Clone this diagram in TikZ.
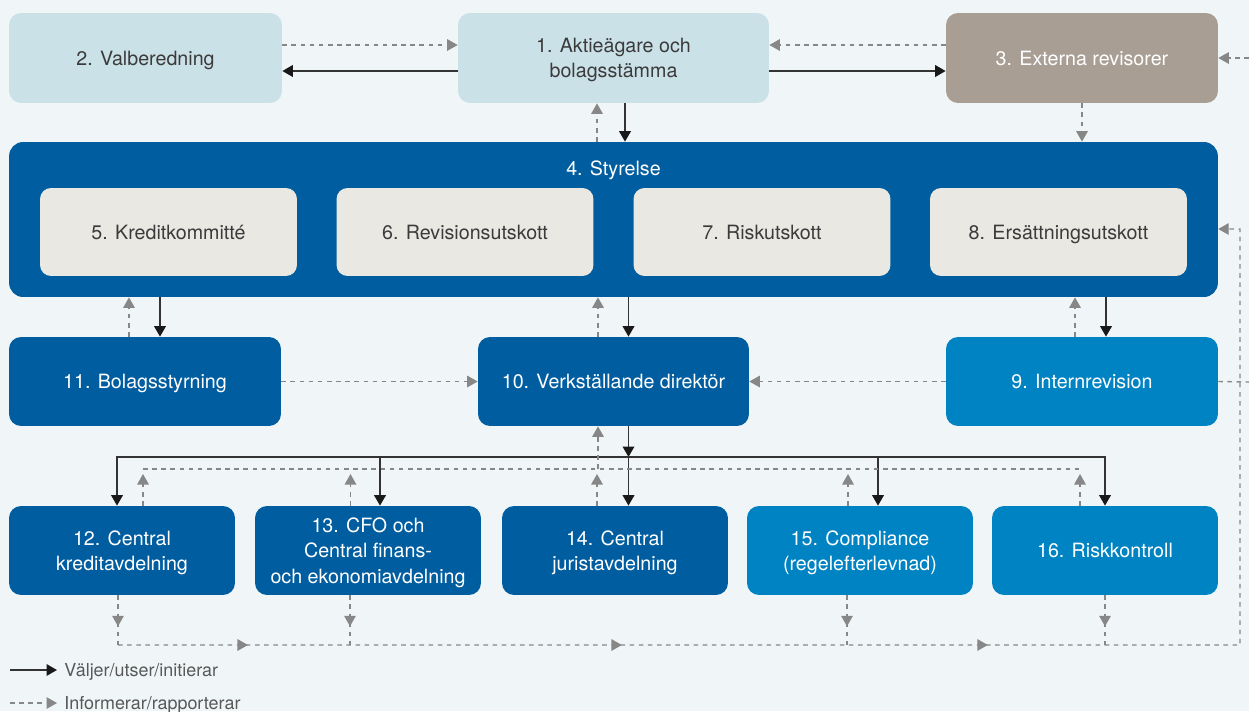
\documentclass[tikz,border=0pt]{standalone}
\usepackage{fontspec}
\setmainfont{TeX Gyre Heros}
\usetikzlibrary{arrows.meta,decorations.markings}
\definecolor{bgpaper}{HTML}{F0F6F7}
\definecolor{palebox}{HTML}{CBE1E8}
\definecolor{taupebox}{HTML}{A89E94}
\definecolor{darkbox}{HTML}{005DA0}
\definecolor{lightbox}{HTML}{0083C2}
\definecolor{greybox}{HTML}{EAE8E3}
\definecolor{boxtext}{HTML}{3B3B3B}
\definecolor{infogrey}{HTML}{878787}
\definecolor{selectgrey}{HTML}{333333}
\tikzset{
    orgbox/.style={rectangle,rounded corners=0.24cm,align=center,text depth=0pt,font=\fontsize{11.2}{14.5}\selectfont},
    palenode/.style={orgbox,fill=palebox,text=boxtext,minimum height=1.8cm},
    taupenode/.style={orgbox,fill=taupebox,text=white,minimum height=1.8cm},
    boardnode/.style={orgbox,fill=darkbox,rounded corners=0.28cm,minimum width=24.18cm,minimum height=3.1cm},
    cmtnode/.style={orgbox,fill=greybox,text=boxtext,rounded corners=0.22cm,minimum width=5.14cm,minimum height=1.76cm},
    darknode/.style={orgbox,fill=darkbox,text=white,minimum height=1.78cm},
    lightnode/.style={orgbox,fill=lightbox,text=white,minimum height=1.78cm},
    legendtext/.style={anchor=west,inner xsep=4pt,text depth=0pt,text=boxtext!85,font=\fontsize{10.2}{12}\selectfont},
    selectline/.style={-{Triangle[length=0.21cm,width=0.23cm,color=black!90]},draw=selectgrey,line width=1.1pt},
    infodash/.style={draw=infogrey,line width=0.8pt,dash pattern=on 2.6pt off 2.6pt},
    infoline/.style={infodash,-{Triangle[length=0.21cm,width=0.23cm]}},
    droptip/.style={postaction={decorate},decoration={markings,mark=at position 0.62cm with {\arrow{Triangle[length=0.21cm,width=0.23cm]}}}},
    bustips/.style={postaction={decorate},decoration={markings,
        mark=at position 2.6cm with {\arrow{Triangle[length=0.21cm,width=0.23cm]}},
        mark=at position 10.08cm with {\arrow{Triangle[length=0.21cm,width=0.23cm]}},
        mark=at position 17.4cm with {\arrow{Triangle[length=0.21cm,width=0.23cm]}}}}
}
\begin{document}
\begin{tikzpicture}[x=0.02cm,y=-0.02cm]
        \useasboundingbox[fill=bgpaper] (0,0) rectangle (1249,711);
        \node[palenode,minimum width=5.46cm] (val) at (145.5,58) {2. Valberedning};
        \node[palenode,minimum width=6.22cm] (akt) at (613.5,58) {1. Aktieägare och\\bolagsstämma};
        \node[taupenode,minimum width=5.44cm] (ext) at (1082,58) {3. Externa revisorer};
        \node[boardnode] (styr) at (613.5,219.5) {};
        \node[orgbox,text=white] (styrtitle) at (613.5,168) {4. Styrelse};
        \node[cmtnode] (kred) at (168.5,232) {5. Kreditkommitté};
        \node[cmtnode] (rev) at (465,232) {6. Revisionsutskott};
        \node[cmtnode] (risk) at (762,232) {7. Riskutskott};
        \node[cmtnode] (ers) at (1058.5,232) {8. Ersättningsutskott};
        \node[darknode,minimum width=5.44cm] (bol) at (145,381.5) {11. Bolagsstyrning};
        \node[darknode,minimum width=5.42cm] (vd) at (613.5,381.5) {10. Verkställande direktör};
        \node[lightnode,minimum width=5.44cm] (intrev) at (1082,381.5) {9. Internrevision};
        \node[darknode,minimum width=4.52cm] (ck) at (122,550.5) {12. Central\\kreditavdelning};
        \node[darknode,minimum width=4.52cm] (cfo) at (368,550.5) {13. CFO och\\Central finans-\\och ekonomiavdelning};
        \node[darknode,minimum width=4.52cm] (jur) at (615,550.5) {14. Central\\juristavdelning};
        \node[lightnode,minimum width=4.52cm] (comp) at (860,550.5) {15. Compliance\\(regelefterlevnad)};
        \node[lightnode,minimum width=4.52cm] (rk) at (1105,550.5) {16. Riskkontroll};
        \node[legendtext] (legsel) at (57,670) {Väljer/utser/initierar};
        \node[legendtext] (leginfo) at (57,703) {Informerar/rapporterar};
        \coordinate (legselstart) at (10,670);
        \coordinate (leginfostart) at (10,703);
        \coordinate (extedge) at (1249,58);
        \coordinate (intrevedge) at (1249,382);
        \coordinate (selbus) at (0,457);
        \coordinate (infobus) at (0,469);
        \coordinate (infotip) at (0,474);
        \coordinate (busleft) at (118,645);
        \coordinate (busright) at (1240,645);
        \coordinate (busup) at (1240,229);
        \draw[infoline] ([yshift=0.26cm]val.east) -- ([yshift=0.26cm]akt.west);
        \draw[selectline] ([yshift=-0.26cm]akt.west) -- ([yshift=-0.26cm]val.east);
        \draw[infoline] ([yshift=0.26cm]ext.west) -- ([yshift=0.26cm]akt.east);
        \draw[selectline] ([yshift=-0.26cm]akt.east) -- ([yshift=-0.26cm]ext.west);
        \draw[infoline] (extedge) -- (ext.east);
        \draw[infoline] ([xshift=-0.33cm]styr.north) -- ([xshift=-0.33cm]akt.south);
        \draw[selectline] ([xshift=0.23cm]akt.south) -- ([xshift=0.23cm]styr.north);
        \draw[infoline] (ext.south) -- (ext.south |- styr.north);
        \draw[infoline] ([xshift=-0.32cm]bol.north) -- ([xshift=-0.32cm]bol.north |- styr.south);
        \draw[selectline] ([xshift=0.3cm]bol.north |- styr.south) -- ([xshift=0.3cm]bol.north);
        \draw[infoline] ([xshift=-0.31cm]vd.north) -- ([xshift=-0.31cm]vd.north |- styr.south);
        \draw[selectline] ([xshift=0.3cm]vd.north |- styr.south) -- ([xshift=0.3cm]vd.north);
        \draw[infoline] ([xshift=-0.14cm]intrev.north) -- ([xshift=-0.14cm]intrev.north |- styr.south);
        \draw[selectline] ([xshift=0.48cm]intrev.north |- styr.south) -- ([xshift=0.48cm]intrev.north);
        \draw[infoline] (bol.east) -- (vd.west);
        \draw[infoline] (intrev.west) -- (vd.east);
        \draw[infodash] (intrev.east) -- (intrevedge);
        \draw[selectline] ([xshift=0.3cm]vd.south) -- ([xshift=0.3cm]vd.south |- selbus);
        \draw[selectline] ([xshift=0.3cm]vd.south |- selbus) -| ([xshift=-0.1cm]ck.north);
        \draw[selectline] ([xshift=0.3cm]vd.south |- selbus) -| (rk.north);
        \draw[selectline] ([xshift=0.24cm]cfo.north |- selbus) -- ([xshift=0.24cm]cfo.north);
        \draw[selectline] ([xshift=0.3cm]vd.south |- selbus) -- ([xshift=0.3cm]vd.south |- jur.north);
        \draw[selectline] ([xshift=0.36cm]comp.north |- selbus) -- ([xshift=0.36cm]comp.north);
        \draw[infodash] ([xshift=0.42cm]ck.north |- infobus) -- ([xshift=-0.5cm]rk.north |- infobus);
        \draw[infoline] ([xshift=-0.31cm]vd.south |- infobus) -- ([xshift=-0.31cm]vd.south);
        \draw[infoline] ([xshift=0.42cm]ck.north) -- ([xshift=0.42cm]ck.north |- infotip);
        \draw[infoline] ([xshift=-0.35cm]cfo.north) -- ([xshift=-0.35cm]cfo.north |- infotip);
        \draw[infoline] ([xshift=-0.36cm]jur.north) -- ([xshift=-0.36cm]jur.north |- infotip);
        \draw[infoline] ([xshift=-0.24cm]comp.north) -- ([xshift=-0.24cm]comp.north |- infotip);
        \draw[infoline] ([xshift=-0.5cm]rk.north) -- ([xshift=-0.5cm]rk.north |- infotip);
        \draw[infodash,droptip] ([xshift=-0.08cm]ck.south) -- ([xshift=-0.08cm]ck.south |- busleft);
        \draw[infodash,droptip] ([xshift=-0.36cm]cfo.south) -- ([xshift=-0.36cm]cfo.south |- busleft);
        \draw[infodash,droptip] ([xshift=-0.26cm]comp.south) -- ([xshift=-0.26cm]comp.south |- busleft);
        \draw[infodash,droptip] (rk.south) -- (rk.south |- busleft);
        \draw[infoline,bustips] (busleft) -- (busright) -- (busup) -- ([yshift=-0.19cm]styr.east);
        \draw[selectline] (legselstart) -- (legsel.west);
        \draw[infoline] (leginfostart) -- (leginfo.west);
    \end{tikzpicture}
\end{document}
